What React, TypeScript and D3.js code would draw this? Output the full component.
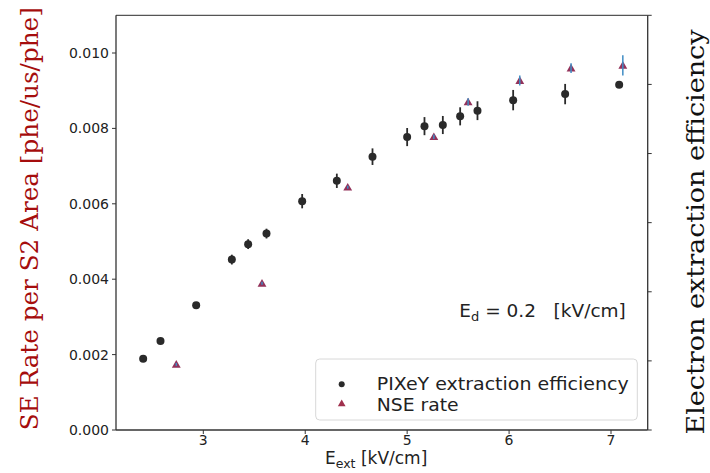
import React from "react";
import * as d3 from "d3";

const pixeyE = [2.41, 2.58, 2.93, 3.28, 3.44, 3.62, 3.97, 4.31, 4.66, 5.0, 5.17, 5.35, 5.52, 5.69, 6.04, 6.55, 7.08];
const pixeyRate = [0.00189, 0.00236, 0.00331, 0.00452, 0.00493, 0.00521, 0.00607, 0.00661, 0.00725, 0.00777, 0.00806, 0.00809, 0.00832, 0.00847, 0.00875, 0.00891, 0.00916];
const pixeyErr = [0.00005, 0.00005, 0.00005, 0.00013, 0.00013, 0.00013, 0.00019, 0.00019, 0.00022, 0.00024, 0.00024, 0.00024, 0.00024, 0.00025, 0.00027, 0.00027, 0.00005];

const nseE = [2.735, 3.576, 4.417, 5.262, 5.598, 6.105, 6.608, 7.116];
const nseRate = [0.00174, 0.00389, 0.00644, 0.00778, 0.0087, 0.00927, 0.0096, 0.00967];
const nseErr = [0.00004, 0.00004, 0.00004, 0.00006, 0.0001, 0.00013, 0.00013, 0.00027];

const xTicks = [3, 4, 5, 6, 7];
const yTicks = [0, 0.002, 0.004, 0.006, 0.008, 0.01];
const rightTicks = [0, 0.2, 0.4, 0.6, 0.8, 1.0, 1.2];

const W = 710;
const H = 473;
const L = 116, R = 647.7, T = 15.3, B = 430;

const sans = "DejaVu Sans, sans-serif";
const serif = "DejaVu Serif, serif";

export default function App() {
  const x = d3.scaleLinear().domain([2.1435, 7.36]).range([L, R]);
  const y = d3.scaleLinear().domain([0, 0.011]).range([B, T]);
  const yR = d3.scaleLinear().domain([0, 1.2]).range([B, T]);
  const tri = d3.symbol().type(d3.symbolTriangle).size(34)();
  const triLeg = d3.symbol().type(d3.symbolTriangle).size(26)();
  const circleColor = "#2a2a2a";
  const triColor = "#93325a";
  const barBlue = "#3f8cc4";

  return (
    <svg width={W} height={H} style={{ position: "absolute", left: 0, top: 0, background: "#fff" }}>
      <rect x={0} y={0} width={W} height={H} fill="#fff" />
      {/* frame */}
      <line x1={L} x2={R} y1={T} y2={T} stroke="#555" strokeWidth={1.3} />
      <line x1={L} x2={R} y1={B} y2={B} stroke="#333" strokeWidth={1.3} />
      <line x1={L} x2={L} y1={T} y2={B} stroke="#333" strokeWidth={1.3} />
      <line x1={R} x2={R} y1={T} y2={B} stroke="#333" strokeWidth={1.3} />

      {/* left ticks */}
      {yTicks.map((t) => (
        <g key={"y" + t}>
          <line x1={L - 4} x2={L} y1={y(t)} y2={y(t)} stroke="#333" strokeWidth={1} />
          <text x={L - 7} y={y(t)} dy="0.36em" textAnchor="end" fontFamily={sans} fontSize={14} fill="#222">
            {d3.format(".3f")(t)}
          </text>
        </g>
      ))}
      {/* right ticks (no labels) */}
      {rightTicks.map((t) => (
        <line key={"r" + t} x1={R} x2={R + 4} y1={yR(t)} y2={yR(t)} stroke="#333" strokeWidth={1} />
      ))}
      {/* x ticks */}
      {xTicks.map((t) => (
        <g key={"x" + t}>
          <line x1={x(t)} x2={x(t)} y1={B} y2={B + 4} stroke="#333" strokeWidth={1} />
          <text x={x(t)} y={B + 15} textAnchor="middle" fontFamily={sans} fontSize={14} fill="#222">
            {t}
          </text>
        </g>
      ))}

      {/* x label */}
      <text x={325} y={464} fontFamily={sans} fontSize={17} fill="#222">
        E<tspan fontSize={12.5} dy={4}>ext</tspan>
        <tspan dy={-4}> [kV/cm]</tspan>
      </text>

      {/* y labels */}
      <text
        transform={`translate(38,${218.7}) rotate(-90)`}
        textAnchor="middle"
        fontFamily={serif}
        fontSize={25}
        fill="#a50d0d"
        textLength={423}
        lengthAdjust="spacingAndGlyphs"
      >
        SE Rate per S2 Area [phe/us/phe]
      </text>
      <text
        transform={`translate(704,${232}) rotate(-90)`}
        textAnchor="middle"
        fontFamily={serif}
        fontSize={25}
        fill="#111"
        textLength={405}
        lengthAdjust="spacingAndGlyphs"
      >
        Electron extraction efficiency
      </text>

      {/* PIXeY error bars + markers */}
      {pixeyE.map((e, i) => (
        <line key={"pe" + i} x1={x(e)} x2={x(e)} y1={y(pixeyRate[i] - pixeyErr[i])} y2={y(pixeyRate[i] + pixeyErr[i])} stroke={circleColor} strokeWidth={1.8} />
      ))}
      {pixeyE.map((e, i) => (
        <circle key={"pc" + i} cx={x(e)} cy={y(pixeyRate[i])} r={4} fill={circleColor} />
      ))}

      {/* NSE markers + error bars */}
      {nseE.map((e, i) => (
        <path key={"nt" + i} d={tri!} transform={`translate(${x(e)},${y(nseRate[i]) + 0.8})`} fill={triColor} />
      ))}
      {nseE.map((e, i) => (
        <line key={"ne" + i} x1={x(e)} x2={x(e)} y1={y(nseRate[i] - nseErr[i])} y2={y(nseRate[i] + nseErr[i])} stroke={barBlue} strokeWidth={1.5} />
      ))}

      {/* annotation */}
      <text x={459.3} y={317.3} fontFamily={sans} fontSize={18.5} fill="#222">
        E<tspan fontSize={13} dy={4}>d</tspan>
        <tspan dy={-4}>{" = 0.2\u00a0\u00a0\u00a0[kV/cm]"}</tspan>
      </text>

      {/* legend */}
      <rect x={315.7} y={359} width={321.6} height={61} rx={4} fill="#fff" fillOpacity={0.8} stroke="#d8d8d8" strokeWidth={1} />
      <circle cx={341.7} cy={384.3} r={3} fill={circleColor} />
      <path d={triLeg!} transform={`translate(341.7,${404})`} fill="#a0304d" />
      <text x={376.7} y={390} fontFamily={sans} fontSize={17.5} fill="#222" textLength={252} lengthAdjust="spacingAndGlyphs">
        PIXeY extraction efficiency
      </text>
      <text x={376.7} y={410.5} fontFamily={sans} fontSize={17.5} fill="#222" textLength={82} lengthAdjust="spacingAndGlyphs">
        NSE rate
      </text>
    </svg>
  );
}
